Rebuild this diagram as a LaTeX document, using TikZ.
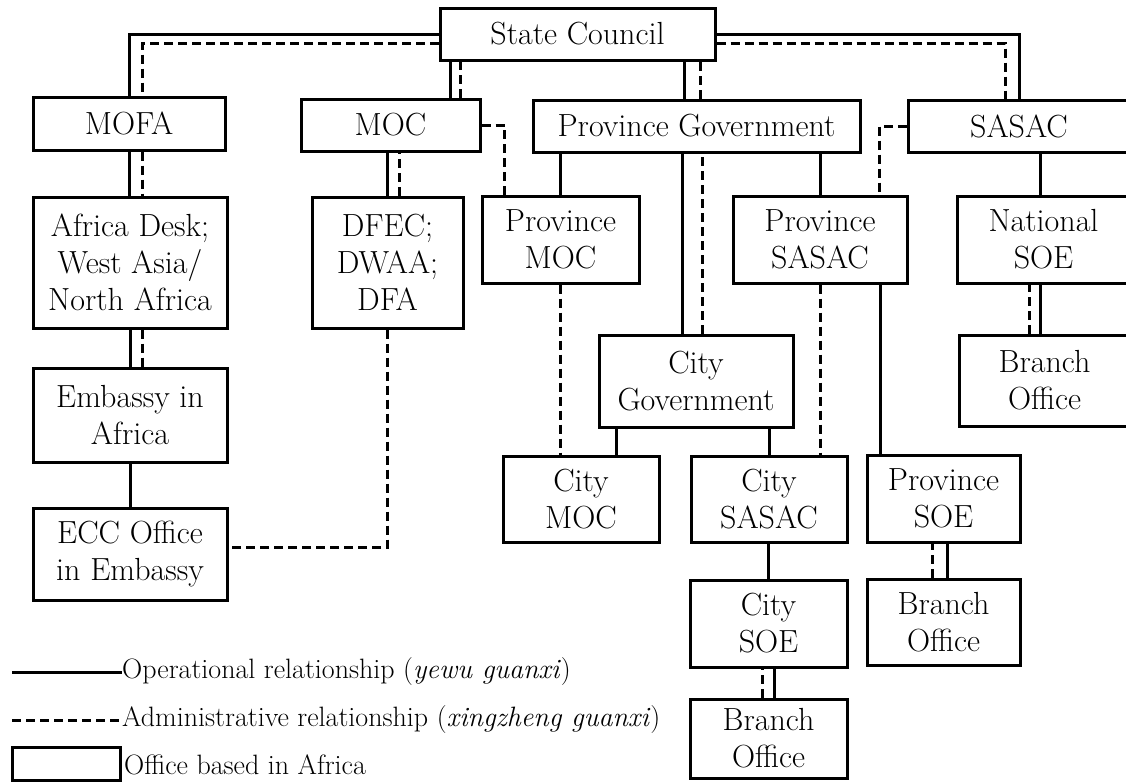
\documentclass[tikz,border=0pt]{standalone}
\usepackage{fontspec}
\usepackage{tikz}
\newcommand{\boxfont}{\fontsize{32}{37}\selectfont}
\newcommand{\keyfont}{\fontsize{28}{32}\selectfont}
\tikzset{
  box/.style={draw, line width=3pt, align=center, inner sep=0pt, font=\boxfont},
  op/.style={line width=3pt},
  adm/.style={line width=3pt, dash pattern=on 9pt off 5pt},
}

\begin{document}
\begin{tikzpicture}[x=1pt,y=-1pt]
  \useasboundingbox (0,0) rectangle (1126,782);
  % Top level
  \node[box, minimum width=275, minimum height=52] (council) at (577.5,34) {State Council};
  \node[box, minimum width=192, minimum height=53] (mofa) at (129,123.5) {MOFA};
  \node[box, minimum width=179, minimum height=52] (moc) at (390.5,125) {MOC};
  \node[box, minimum width=327, minimum height=52] (provgov) at (696.5,126) {Province Government};
  \node[box, minimum width=222, minimum height=52] (sasac) at (1019,126) {SASAC};
  % Second level
  \node[box, minimum width=194, minimum height=131] (afdesk) at (130,262.5) {Africa Desk;\\West Asia/\\North Africa};
  \node[box, minimum width=151, minimum height=131] (dfec) at (387.5,262.5) {DFEC;\\DWAA;\\DFA};
  \node[box, minimum width=157, minimum height=87] (provmoc) at (560.5,239.5) {Province\\MOC};
  \node[box, minimum width=174, minimum height=87] (provsasac) at (820,239.5) {Province\\SASAC};
  \node[box, minimum width=173, minimum height=87] (natsoe) at (1043.5,239.5) {National\\SOE};
  % Lower levels
  \node[box, minimum width=194, minimum height=94] (embassy) at (130,415) {Embassy in\\Africa};
  \node[box, minimum width=194, minimum height=92] (eccoffice) at (130,554) {ECC Office\\in Embassy};
  \node[box, minimum width=194, minimum height=92] (citygov) at (696,381) {City\\Government};
  \node[box, minimum width=171, minimum height=91] (natbranch) at (1044.5,380.5) {Branch\\Office};
  \node[box, minimum width=156, minimum height=86] (citymoc) at (581,499) {City\\MOC};
  \node[box, minimum width=156, minimum height=86] (citysasac) at (769,499) {City\\SASAC};
  \node[box, minimum width=153, minimum height=87] (provsoe) at (943.5,498.5) {Province\\SOE};
  \node[box, minimum width=153, minimum height=86] (provbranch) at (943.5,622) {Branch\\Office};
  \node[box, minimum width=157, minimum height=87] (citysoe) at (768.5,623.5) {City\\SOE};
  \node[box, minimum width=157, minimum height=79] (citybranch) at (768.5,738.5) {Branch\\Office};

  % State Council links
  \draw[op] (council.west) -| (mofa.north);
  \draw[adm] ([yshift=-9pt]council.west) -| ([xshift=13pt]mofa.north);
  \draw[op] ([xshift=60pt]moc.north) -- ([xshift=60pt]moc.north |- council.south);
  \draw[adm] ([xshift=70pt]moc.north) -- ([xshift=70pt]moc.north |- council.south);
  \draw[op] ([xshift=-12pt]provgov.north) -- ([xshift=-12pt]provgov.north |- council.south);
  \draw[adm] ([xshift=4pt]provgov.north) -- ([xshift=4pt]provgov.north |- council.south);
  \draw[op] (council.east) -| (sasac.north);
  \draw[adm] ([yshift=-9pt]council.east) -| ([xshift=-14pt]sasac.north);
  % MOFA branch
  \draw[op] (mofa.south) -- (mofa.south |- afdesk.north);
  \draw[adm] ([xshift=13pt]mofa.south) -- ([xshift=13pt]mofa.south |- afdesk.north);
  \draw[op] (afdesk.south) -- (afdesk.south |- embassy.north);
  \draw[adm] ([xshift=12pt]afdesk.south) -- ([xshift=12pt]afdesk.south |- embassy.north);
  \draw[op] (embassy) -- (eccoffice);
  % MOC branch
  \draw[op] (dfec.north) -- (dfec.north |- moc.south);
  \draw[adm] ([xshift=12pt]dfec.north) -- ([xshift=12pt]dfec.north |- moc.south);
  \draw[adm] (moc.east) -| ([xshift=-56pt]provmoc.north);
  \draw[adm] (dfec.south) |- ([yshift=7pt]eccoffice.east);
  % Province Government branch
  \draw[op] (provmoc.north) -- (provmoc.north |- provgov.south);
  \draw[op] ([xshift=-14pt]citygov.north) -- ([xshift=-14pt]citygov.north |- provgov.south);
  \draw[adm] ([xshift=6pt]citygov.north) -- ([xshift=6pt]citygov.north |- provgov.south);
  \draw[op] (provsasac.north) -- (provsasac.north |- provgov.south);
  % SASAC branch
  \draw[adm] (sasac.west) -| ([xshift=59pt]provsasac.north);
  \draw[op] ([xshift=-3pt]natsoe.north) -- ([xshift=-3pt]natsoe.north |- sasac.south);
  \draw[op] ([xshift=-4pt]natbranch.north) -- ([xshift=-4pt]natbranch.north |- natsoe.south);
  \draw[adm] ([xshift=-15pt]natbranch.north) -- ([xshift=-15pt]natbranch.north |- natsoe.south);
  % City level
  \draw[adm] (provmoc.south) -- (provmoc.south |- citymoc.north);
  \draw[op] ([xshift=35pt]citymoc.north) -- ([xshift=35pt]citymoc.north |- citygov.south);
  \draw[op] (citysasac.north) -- (citysasac.north |- citygov.south);
  \draw[adm] (provsasac.south) -- (provsasac.south |- citysasac.north);
  \draw[op] ([xshift=60pt]provsasac.south) -- ([xshift=60pt]provsasac.south |- provsoe.north);
  \draw[op] (citysoe.north) -- (citysoe.north |- citysasac.south);
  \draw[op] ([xshift=3.5pt]provbranch.north) -- ([xshift=3.5pt]provbranch.north |- provsoe.south);
  \draw[adm] ([xshift=-11.5pt]provbranch.north) -- ([xshift=-11.5pt]provbranch.north |- provsoe.south);
  \draw[op] ([xshift=6pt]citybranch.north) -- ([xshift=6pt]citybranch.north |- citysoe.south);
  \draw[adm] ([xshift=-6pt]citybranch.north) -- ([xshift=-6pt]citybranch.north |- citysoe.south);

  % Legend
  \node[anchor=west, inner sep=0pt, font=\keyfont] (opkey) at (122,672) {Operational relationship (\textit{yewu guanxi})};
  \node[anchor=west, inner sep=0pt, font=\keyfont] (admkey) at (122,720) {Administrative relationship (\textit{xingzheng guanxi})};
  \node[anchor=west, inner sep=0pt, font=\keyfont] (boxkey) at (124,765) {Office based in Africa};
  \coordinate (opstart) at (12,672);
  \coordinate (admstart) at (12,720);
  \draw[op] (opstart) -- (opkey.west);
  \draw[adm] (admstart) -- (admkey.west);
  \node[draw, line width=3pt, minimum width=108, minimum height=33] (keybox) at (66,763.5) {};
\end{tikzpicture}
\end{document}
